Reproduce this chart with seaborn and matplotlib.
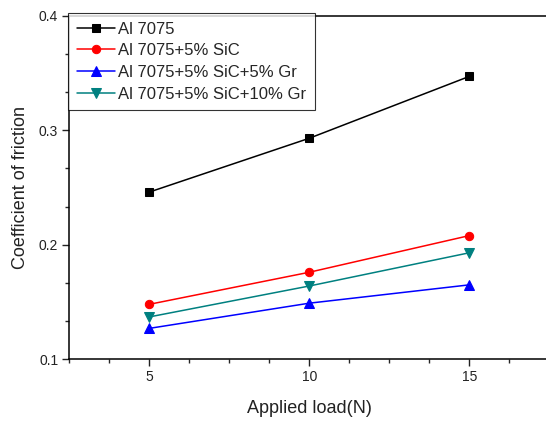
import matplotlib
matplotlib.use("Agg")
import matplotlib.pyplot as plt
import seaborn as sns
import pandas as pd
from matplotlib.ticker import MultipleLocator

loads = [5, 10, 15]
al7075 = [0.246, 0.293, 0.347]
al_sic = [0.148, 0.176, 0.208]
al_sic_gr5 = [0.127, 0.149, 0.165]
al_sic_gr10 = [0.137, 0.164, 0.193]
labels = ["Al 7075", "Al 7075+5% SiC", "Al 7075+5% SiC+5% Gr", "Al 7075+5% SiC+10% Gr"]
colors = ["#000000", "#ff0000", "#0000ff", "#008080"]
markers = ["s", "o", "^", "v"]

sns.set_theme(style="ticks")
plt.rcParams["font.family"] = ["Liberation Sans", "DejaVu Sans"]

fig = plt.figure(figsize=(5.46, 4.21), dpi=100)
W, H = 546, 421
left, right, top, bottom = 69.3, 549.3, 15.7, 359.3
ax = fig.add_axes([left / W, 1 - bottom / H, (right - left) / W, (bottom - top) / H])

series = [al7075, al_sic, al_sic_gr5, al_sic_gr10]
for vals, lab, c, m in zip(series, labels, colors, markers):
    df = pd.DataFrame({"load": loads, "cof": vals})
    sns.lineplot(data=df, x="load", y="cof", ax=ax, color=c, marker=m,
                 markersize=6.5 if m in "^v" else 6, markeredgecolor=c,
                 linewidth=1.1, label=lab)

ax.set_xlim(2.5, 17.5)
ax.set_ylim(0.1, 0.4)
ax.xaxis.set_major_locator(MultipleLocator(5))
ax.xaxis.set_minor_locator(MultipleLocator(1.25))
ax.yaxis.set_minor_locator(MultipleLocator(0.1 / 3))
ax.set_yticks([0.1, 0.2, 0.3, 0.4])
ax.set_yticklabels(["0.1", "0.2", "0.3", "0.4"])
ax.tick_params(which="major", direction="out", length=5, width=1.0, labelsize=10,
               colors="#222222", pad=3)
ax.tick_params(which="minor", direction="out", length=3, width=1.0)
ax.tick_params(top=False, right=False)
for s in ["left", "bottom", "top"]:
    ax.spines[s].set_visible(True)
    ax.spines[s].set_linewidth(1.1)
    ax.spines[s].set_color("black")
ax.spines["right"].set_visible(False)

ax.set_xlabel("Applied load(N)", fontsize=13, labelpad=11, color="#222222")
ax.set_ylabel("Coefficient of friction", fontsize=13, labelpad=7, color="#222222")

leg = ax.legend(loc="upper left", bbox_to_anchor=(-0.002, 1.007), borderaxespad=0,
                fontsize=12, frameon=True, fancybox=False, handlelength=2.3,
                handletextpad=0.2, labelspacing=0.4, borderpad=0.5)
leg.get_frame().set_edgecolor("black")
leg.get_frame().set_linewidth(0.8)

fig.savefig("out.png", dpi=100)
